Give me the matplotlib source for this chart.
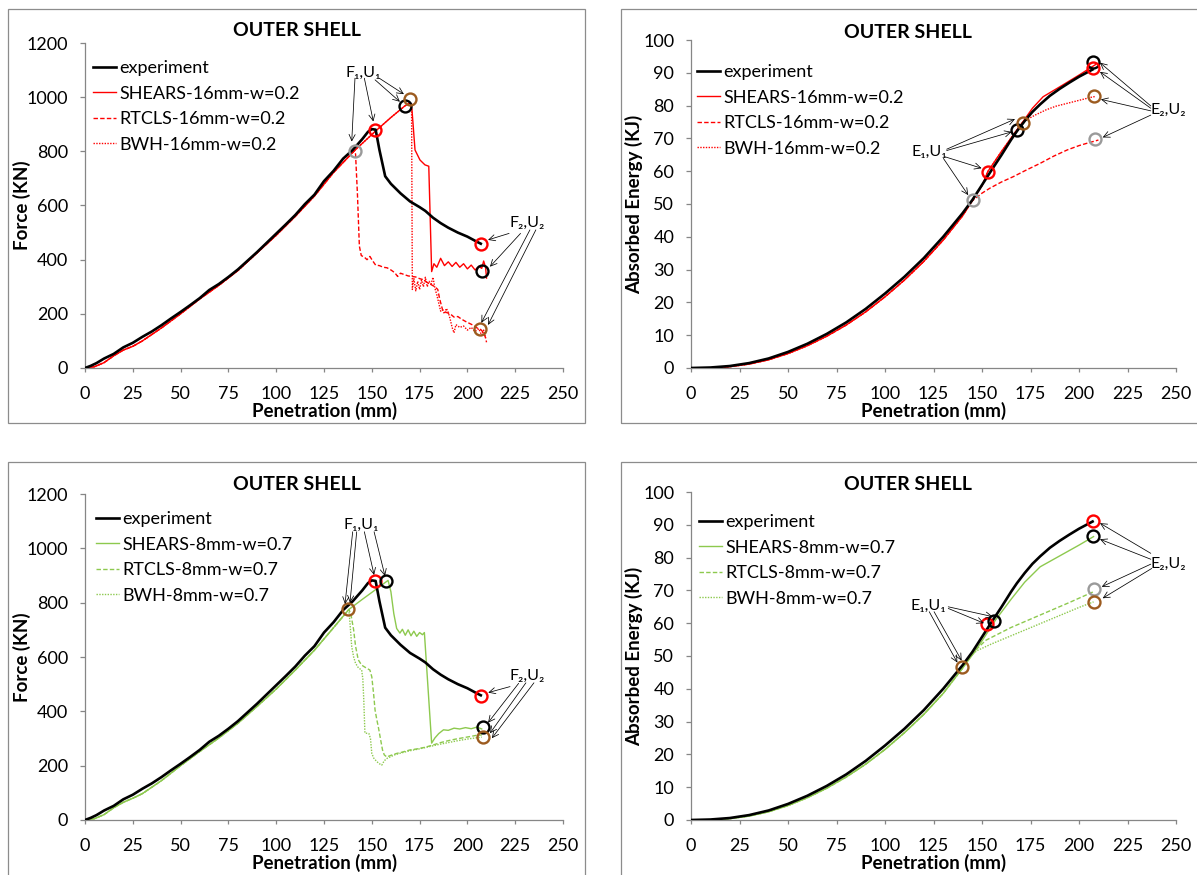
import matplotlib
matplotlib.use("Agg")
import matplotlib.pyplot as plt
from matplotlib.patches import Rectangle

plt.rcParams['font.family'] = ['Lato', 'DejaVu Sans']

W, H = 1197, 875

# ---------------- force vs penetration ----------------
exp_force_u = [0, 3, 6, 10, 15, 20, 25, 30, 35, 40, 45, 50, 55, 60, 65, 70, 75, 80, 85, 90,
               95, 100, 105, 110, 115, 120, 125, 130, 135, 140, 145, 148, 150, 152, 154, 157,
               160, 165, 170, 175, 178, 182, 186, 190, 195, 200, 205, 207]
exp_force = [0, 8, 18, 35, 52, 76, 93, 115, 135, 158, 183, 207, 232, 258, 288, 310, 336, 364,
             396, 428, 462, 496, 530, 565, 605, 640, 690, 728, 773, 805, 845, 872, 882, 880,
             805, 708, 680, 645, 615, 594, 580, 555, 535, 518, 500, 485, 466, 459]

# 16 mm mesh, w = 0.2
pre16_u = [0, 5, 10, 15, 20, 25, 30, 40, 50, 60, 70, 80, 90, 100, 110, 120, 130, 141]
pre16_F = [0, 5, 20, 45, 66, 80, 100, 148, 200, 255, 305, 360, 425, 490, 560, 635, 722, 803]
rise16_u = [152, 160, 167, 170]
rise16_F = [875, 925, 966, 980]
shears16_tail_u = [171, 172.6, 175.2, 177.8, 179.8, 181.3, 182.5, 184, 186, 188, 190, 192, 194,
                   196, 198, 200, 202, 204, 206, 207.5, 208.5, 209.5, 210]
shears16_tail_F = [955, 805, 768, 750, 745, 356, 385, 372, 405, 378, 392, 375, 390, 372, 385,
                   366, 380, 362, 375, 368, 395, 372, 332]
rtcls16_tail_u = [141.5, 142.5, 143.5, 144.5, 146, 147.5, 149, 150.5, 152, 154, 156, 158, 160,
                  162, 163.5, 165, 167, 169, 171, 173, 175, 177, 179, 181, 183, 184.5, 185.5,
                  187, 189, 191, 193, 195, 197, 199, 201, 203, 205, 207, 208.5, 209.5, 210]
rtcls16_tail_F = [790, 640, 450, 415, 410, 400, 412, 395, 380, 378, 372, 370, 362, 352, 338,
                  350, 345, 340, 338, 336, 330, 326, 316, 308, 300, 290, 255, 215, 205, 200,
                  188, 190, 180, 172, 165, 158, 148, 142, 130, 112, 95]
bwh16_tail_u = [170.8, 171.2, 172, 173, 174, 175, 176, 177, 178, 179, 180, 181, 182, 183, 184,
                185, 186, 187, 188, 189, 190, 191, 192, 193, 194, 196, 198, 200, 202, 204, 206,
                207.5, 208.5, 209.5]
bwh16_tail_F = [975, 290, 330, 285, 320, 290, 325, 300, 335, 300, 320, 310, 335, 295, 270, 240,
                210, 215, 200, 220, 205, 180, 150, 130, 160, 150, 155, 140, 150, 135, 145, 120,
                140, 110]

# 8 mm mesh, w = 0.7
pre8_u = [0, 5, 10, 15, 20, 25, 30, 40, 50, 60, 70, 80, 90, 100, 110, 120, 130, 138]
pre8_F = [0, 5, 20, 45, 65, 80, 97, 145, 200, 252, 302, 356, 418, 482, 552, 625, 708, 775]
shears8_tail_u = [145, 152, 158.5, 160, 161.5, 163, 164.7, 166, 167.5, 169, 170.5, 172, 173.5,
                  175, 176.5, 177.5, 181.3, 183, 185, 187.5, 190, 193, 196, 199, 202, 205, 207.5]
shears8_tail_F = [812, 848, 882, 840, 760, 705, 688, 702, 680, 700, 678, 695, 676, 690, 682,
                  690, 283, 302, 318, 332, 330, 338, 335, 340, 336, 342, 335]
rtcls8_tail_u = [139, 140.5, 141.5, 142.9, 144.7, 147, 149, 150, 151, 151.7, 152.6, 153.4,
                 154.5, 155.6, 156.5, 157.8, 160, 163, 166, 170, 174, 178, 182, 186, 190, 194,
                 198, 202, 205, 207.5]
rtcls8_tail_F = [760, 700, 640, 590, 570, 560, 552, 527, 460, 405, 370, 343, 300, 258, 240,
                 232, 238, 245, 250, 258, 262, 268, 276, 285, 292, 298, 303, 308, 312, 313]
bwh8_tail_u = [138.6, 139.5, 140.5, 141.5, 143, 144.7, 145.3, 145.8, 146.4, 147.5, 148.5, 149.3,
               150, 151, 152.6, 154, 155.2, 156.5, 158, 162, 166, 170, 175, 180, 185, 190, 195,
               200, 204, 207.5]
bwh8_tail_F = [724, 638, 600, 577, 560, 552, 520, 442, 320, 319, 318, 300, 245, 228, 215, 207,
               202, 218, 227, 240, 248, 255, 262, 270, 278, 285, 292, 298, 302, 305]

# ---------------- absorbed energy vs penetration ----------------
exp_energy_u = [0, 10, 20, 30, 40, 50, 60, 70, 80, 90, 100, 110, 120, 130, 140, 145, 150, 155,
                160, 165, 168, 172, 176, 180, 185, 190, 195, 200, 207]
exp_energy = [0, 0.15, 0.6, 1.5, 2.9, 4.9, 7.4, 10.4, 13.9, 18.0, 22.7, 27.8, 33.5, 40.0, 47.2,
              51.2, 55.8, 60.4, 64.9, 69.6, 72.2, 75.3, 78.1, 80.4, 83.0, 85.1, 87.0, 88.8, 91.0]

pre16_E_u = [0, 10, 20, 30, 40, 50, 60, 70, 80, 90, 100, 110, 120, 130, 140]
pre16_E = [0, 0.05, 0.4, 1.2, 2.5, 4.4, 6.8, 9.7, 13.1, 17.1, 21.7, 26.8, 32.5, 39.0, 46.4]
mid16_E_u = [145, 150, 153, 160, 168, 171]
mid16_E = [51.0, 55.6, 59.9, 66.0, 72.6, 75.0]
shears16_E_tail_u = [176, 181.5, 190, 200, 208.5]
shears16_E_tail = [79.2, 82.7, 85.7, 89.3, 92.5]
rtcls16_E_tail_u = [145, 150, 154, 160, 166, 173, 180, 187, 194, 200, 204, 210]
rtcls16_E_tail = [51.0, 53.3, 54.8, 56.7, 58.3, 60.4, 62.4, 64.6, 66.5, 67.8, 68.5, 69.5]
bwh16_E_tail_u = [177, 183, 188, 194, 200, 206, 208.5]
bwh16_E_tail = [77.0, 78.7, 79.8, 80.7, 81.6, 82.5, 82.8]

pre8_E_u = [0, 10, 20, 30, 40, 50, 60, 70, 80, 90, 100, 110, 120, 130, 140]
pre8_E = [0, 0.05, 0.4, 1.2, 2.5, 4.4, 6.8, 9.7, 13.1, 17.0, 21.5, 26.6, 32.2, 38.6, 46.3]
shears8_E_tail_u = [145, 150, 157, 165, 172, 180, 190, 200, 207.5]
shears8_E_tail = [50.3, 54.6, 61.0, 67.3, 72.5, 77.2, 80.5, 83.8, 86.4]
rtcls8_E_tail_u = [143, 147, 152, 165, 180, 195, 207.5]
rtcls8_E_tail = [49.0, 52.0, 54.8, 58.7, 62.5, 66.3, 69.6]
bwh8_E_tail_u = [143, 147.3, 155, 170, 185, 200, 207.5]
bwh8_E_tail = [49.3, 51.6, 53.7, 57.4, 61.1, 64.8, 66.5]

# ---------------- failure-point circles (u, value, colour key) ----------------
circles_f16 = [(141.2, 801, 'gray'), (151.8, 880, 'red'), (167.2, 966, 'black'),
               (170.2, 993, 'brown'), (207, 459, 'red'), (207.6, 358, 'black'),
               (206.8, 145, 'brown')]
circles_e16 = [(145.2, 51.2, 'gray'), (153.3, 59.9, 'red'), (167.9, 72.6, 'black'),
               (171, 74.8, 'brown'), (207.4, 93.4, 'black'), (207, 91.4, 'red'),
               (207.7, 82.9, 'brown'), (208.2, 69.7, 'gray')]
circles_f8 = [(137.6, 775, 'brown'), (151.8, 881, 'red'), (157.2, 881, 'black'),
              (207, 458, 'red'), (208, 342, 'black'), (208, 304, 'brown')]
circles_e8 = [(139.5, 46.7, 'brown'), (152.7, 59.8, 'red'), (156.4, 60.8, 'black'),
              (207.4, 91.2, 'red'), (207.4, 86.6, 'black'), (207.9, 70.3, 'gray'),
              (207.9, 66.6, 'brown')]

# ---------------- callouts: label position and arrows (start -> tip) ----------------
notes_f16 = [
    ('F\u2081,U\u2081', (145.7, 1091), [((141.2, 1070), (139.5, 836)), ((146.1, 1070), (150.8, 910)),
                                       ((151.7, 1064), (164.7, 983)), ((153.9, 1070), (166.8, 1011))]),
    ('F\u2082,U\u2082', (231.2, 534), [((221.8, 497), (210.8, 473)), ((227.8, 497), (211.8, 374)),
                                      ((232.7, 510), (207.3, 167)), ((235.8, 510), (210.8, 159))]),
]
notes_f8 = [
    ('F\u2081,U\u2081', (144.4, 1086), [((140.0, 1061), (136.0, 795)), ((142.1, 1061), (138.6, 800)),
                                       ((146.1, 1061), (151.2, 902)), ((151.2, 1061), (156.9, 898))]),
    ('F\u2082,U\u2082', (231.2, 530), [((222.3, 491), (210.9, 469)), ((226.8, 503), (210.8, 358)),
                                      ((230.6, 505), (211.8, 319)), ((234.8, 505), (212.8, 301))]),
]
notes_e16 = [
    ('E\u2081,U\u2081', (122.7, 65.9), [((131.8, 66.7), (167.0, 75.9)), ((131.8, 66.3), (165.3, 72.0)),
                                        ((130.9, 64.4), (149.8, 60.9)), ((130.1, 63.9), (142.9, 52.7))]),
    ('E\u2082,U\u2082', (246.0, 78.7), [((237.0, 79.9), (210.8, 93.1)), ((237.0, 79.2), (210.8, 90.3)),
                                        ((237.0, 78.4), (211.3, 81.9)), ((237.0, 77.1), (212.2, 70.3))]),
]
notes_e8 = [
    ('E\u2081,U\u2081', (122.3, 65.3), [((132.6, 65.0), (155.5, 62.0)), ((132.6, 64.5), (151.0, 60.0)),
                                        ((122.8, 63.5), (137.3, 48.0)), ((125.3, 63.5), (139.5, 48.6))]),
    ('E\u2082,U\u2082', (246.0, 78.1), [((237.0, 81.3), (210.8, 90.5)), ((237.0, 79.5), (210.8, 85.6)),
                                        ((237.0, 78.0), (211.7, 71.1)), ((237.5, 76.7), (212.2, 67.6))]),
]

RED = '#FF0000'
GREEN = '#8DC94E'
CIRCLE_COLORS = {'red': '#FF0000', 'black': '#000000', 'brown': '#9C5B1F', 'gray': '#9A9A9A'}
AXIS_GRAY = '#868686'
BODY_SIZE = 13


def fig_rect(l, t, r, b):
    return [l / W, 1 - b / H, (r - l) / W, (b - t) / H]


fig = plt.figure(figsize=(W / 100, H / 100), dpi=100)

# chart-area frames
for (l, t, r, b) in [(8, 9, 585, 423), (621, 9, 1205, 423), (8, 462, 585, 885), (621, 462, 1205, 885)]:
    fig.patches.append(Rectangle((l / W, 1 - b / H), (r - l) / W, (b - t) / H,
                                 transform=fig.transFigure, fill=False,
                                 edgecolor='#8C8C8C', linewidth=0.9))


def panel(box, ymax, ystep, ylabel, ylabel_x, title_xy, xlabel_xy, leg_xy, series, circles, notes):
    l, t, r, b = box
    ax = fig.add_axes(fig_rect(l, t, r, b))
    for st, (u, v, color, ls, lw, lab) in enumerate(series):
        ax.plot(u, v, color=color, linestyle=ls, linewidth=lw, label=lab,
                zorder=3 if st == 0 else 2, solid_joinstyle='round')
    for (cu, cv, ck) in circles:
        ax.plot([cu], [cv], 'o', mfc='none', mec=CIRCLE_COLORS[ck], ms=8.6, mew=1.7,
                zorder=6, clip_on=False)
    for text, txy, arrows in notes:
        ax.text(txy[0], txy[1], text, fontsize=11.5, ha='center', va='center', zorder=7,
                clip_on=False)
        for (s, e) in arrows:
            ax.annotate('', xy=e, xytext=s, xycoords='data', textcoords='data',
                        arrowprops=dict(arrowstyle='->,head_length=0.45,head_width=0.22',
                                        color='black', lw=0.55, shrinkA=0, shrinkB=0),
                        zorder=7, annotation_clip=False)
    ax.set_xlim(0, 250)
    ax.set_ylim(0, ymax)
    ax.set_xticks(range(0, 251, 25))
    ax.set_yticks(range(0, ymax + 1, ystep))
    for s in ['top', 'right']:
        ax.spines[s].set_visible(False)
    for s in ['left', 'bottom']:
        ax.spines[s].set_color(AXIS_GRAY)
        ax.spines[s].set_linewidth(0.9)
    ax.tick_params(axis='x', direction='out', length=3.2, width=0.9, color=AXIS_GRAY,
                   labelsize=BODY_SIZE, pad=9.5)
    ax.tick_params(axis='y', direction='out', length=3.6, width=0.9, color=AXIS_GRAY,
                   labelsize=BODY_SIZE, pad=8.4)
    fig.text(title_xy[0] / W, 1 - title_xy[1] / H, 'OUTER SHELL', fontsize=14,
             fontweight='bold', ha='center', va='center')
    fig.text(xlabel_xy[0] / W, 1 - xlabel_xy[1] / H, 'Penetration (mm)', fontsize=13.5,
             fontweight='bold', ha='center', va='center')
    fig.text(ylabel_x / W, 1 - ((t + b) / 2) / H, ylabel, fontsize=13.5, fontweight='bold',
             rotation=90, ha='center', va='center')
    ax.legend(loc='upper left', bbox_to_anchor=(leg_xy[0] / W, 1 - leg_xy[1] / H),
              bbox_transform=fig.transFigure, frameon=False, fontsize=BODY_SIZE,
              borderpad=0, borderaxespad=0, handlelength=1.3, handletextpad=0.17,
              labelspacing=0.53)
    return ax


panel((85, 43, 563, 368), 1200, 200, 'Force (KN)', 22, (297, 31), (325, 411), (93, 60),
      [(exp_force_u, exp_force, 'black', '-', 1.9, 'experiment'),
       (pre16_u + rise16_u + shears16_tail_u, pre16_F + rise16_F + shears16_tail_F, RED, '-', 1.0,
        'SHEARS-16mm-w=0.2'),
       (pre16_u + rtcls16_tail_u, pre16_F + rtcls16_tail_F, RED, (0, (3.2, 1.6)), 1.0,
        'RTCLS-16mm-w=0.2'),
       (pre16_u + rise16_u + bwh16_tail_u, pre16_F + rise16_F + bwh16_tail_F, RED, (0, (1, 1)), 1.0,
        'BWH-16mm-w=0.2')],
      circles_f16, notes_f16)

panel((691, 40, 1176, 368), 100, 10, 'Absorbed Energy (KJ)', 634, (908, 32), (934, 411), (697, 64),
      [(exp_energy_u, exp_energy, 'black', '-', 1.9, 'experiment'),
       (pre16_E_u + mid16_E_u + shears16_E_tail_u, pre16_E + mid16_E + shears16_E_tail, RED, '-',
        1.0, 'SHEARS-16mm-w=0.2'),
       (pre16_E_u + rtcls16_E_tail_u, pre16_E + rtcls16_E_tail, RED, (0, (3.2, 1.6)), 1.0,
        'RTCLS-16mm-w=0.2'),
       (pre16_E_u + mid16_E_u + bwh16_E_tail_u, pre16_E + mid16_E + bwh16_E_tail, RED, (0, (1, 1)),
        1.0, 'BWH-16mm-w=0.2')],
      circles_e16, notes_e16)

panel((85, 494, 563, 820), 1200, 200, 'Force (KN)', 22, (297, 484), (325, 863), (96, 511),
      [(exp_force_u, exp_force, 'black', '-', 1.9, 'experiment'),
       (pre8_u + shears8_tail_u, pre8_F + shears8_tail_F, GREEN, '-', 1.0, 'SHEARS-8mm-w=0.7'),
       (pre8_u + rtcls8_tail_u, pre8_F + rtcls8_tail_F, GREEN, (0, (3.2, 1.6)), 1.0,
        'RTCLS-8mm-w=0.7'),
       (pre8_u + bwh8_tail_u, pre8_F + bwh8_tail_F, GREEN, (0, (1, 1)), 1.0, 'BWH-8mm-w=0.7')],
      circles_f8, notes_f8)

panel((691, 492, 1176, 820), 100, 10, 'Absorbed Energy (KJ)', 634, (908, 484), (934, 863), (699, 514),
      [(exp_energy_u, exp_energy, 'black', '-', 1.9, 'experiment'),
       (pre8_E_u + shears8_E_tail_u, pre8_E + shears8_E_tail, GREEN, '-', 1.0, 'SHEARS-8mm-w=0.7'),
       (pre8_E_u + rtcls8_E_tail_u, pre8_E + rtcls8_E_tail, GREEN, (0, (3.2, 1.6)), 1.0,
        'RTCLS-8mm-w=0.7'),
       (pre8_E_u + bwh8_E_tail_u, pre8_E + bwh8_E_tail, GREEN, (0, (1, 1)), 1.0, 'BWH-8mm-w=0.7')],
      circles_e8, notes_e8)

fig.savefig('out.png', dpi=100)
